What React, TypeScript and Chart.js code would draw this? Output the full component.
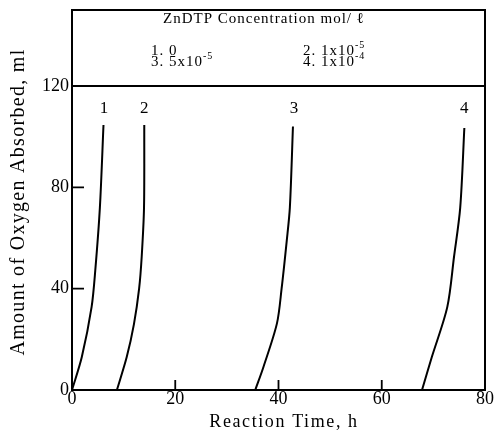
import React, { useEffect, useRef } from 'react';
import { Chart, registerables } from 'chart.js';
Chart.register(...registerables);

const curve1X = [0, 1.9, 3.8, 4.5, 5.4, 6.1];
const curve1Y = [0, 13, 32.8, 47, 72, 104.6];
const curve2X = [8.7, 10.6, 12.0, 13.0, 13.5, 13.95, 14.0];
const curve2Y = [0, 13, 26, 40, 52.6, 72, 104.6];
const curve3X = [35.5, 37.1, 39.7, 40.6, 41.6, 42.2, 42.8];
const curve3Y = [0, 9.2, 26.3, 40, 59, 72, 104];
const curve4X = [67.8, 69.7, 72.7, 74.0, 75.2, 76.0];
const curve4Y = [0, 13, 32.8, 52.6, 72, 103.4];

const curveLabels = ['1', '2', '3', '4'];
const curveLabelX = [6.2, 14.0, 43.0, 76.0];
const curveLabelY = 111;

const xTicks = [0, 20, 40, 60, 80];
const yTicks = [0, 40, 80, 120];
const xInnerTicks = [20, 40, 60];
const yInnerTicks = [40, 80];
const legendTopValue = 120;

const legendTitle = 'ZnDTP Concentration mol/ ℓ';
const legendLabels = ['1. 0', '2. 1x10', '3. 5x10', '4. 1x10'];
const legendExps = ['', '-5', '-5', '-4'];

const xTitle = 'Reaction Time, h';
const yTitle = 'Amount of Oxygen Absorbed, ml';

const FONT = '"Liberation Serif", "DejaVu Serif", serif';

function pts(xs: number[], ys: number[]) {
  return xs.map((x, i) => ({ x, y: ys[i] }));
}

const decorPlugin = {
  id: 'decor',
  afterDraw(chart: any) {
    const { ctx, chartArea, scales } = chart;
    const { left, right, top, bottom } = chartArea;
    const xs = scales.x;
    const ys = scales.y;
    ctx.save();
    ctx.strokeStyle = '#000';
    ctx.fillStyle = '#000';
    ctx.lineWidth = 2;
    ctx.strokeRect(left, top, right - left, bottom - top);
    const ly = ys.getPixelForValue(legendTopValue);
    ctx.beginPath();
    ctx.moveTo(left, ly);
    ctx.lineTo(right, ly);
    ctx.stroke();
    ctx.lineWidth = 1.8;
    ctx.beginPath();
    xInnerTicks.forEach((v) => {
      const px = xs.getPixelForValue(v);
      ctx.moveTo(px, bottom);
      ctx.lineTo(px, bottom - 10);
    });
    yInnerTicks.forEach((v) => {
      const py = ys.getPixelForValue(v);
      ctx.moveTo(left, py);
      ctx.lineTo(left + 12, py);
    });
    ctx.stroke();

    // curve labels
    ctx.font = `17px ${FONT}`;
    ctx.textAlign = 'center';
    ctx.textBaseline = 'middle';
    curveLabels.forEach((t, i) => {
      ctx.fillText(t, xs.getPixelForValue(curveLabelX[i]), ys.getPixelForValue(curveLabelY));
    });

    // legend
    (ctx as any).letterSpacing = '1px';
    ctx.font = `15px ${FONT}`;
    ctx.textBaseline = 'alphabetic';
    ctx.fillText(legendTitle, 264, 23);
    ctx.textAlign = 'left';
    (ctx as any).letterSpacing = '1px';
    const colX = [151, 303];
    const rowY = [55, 66];
    legendLabels.forEach((t, i) => {
      const cx = colX[i % 2];
      const cy = rowY[Math.floor(i / 2)];
      ctx.font = `15px ${FONT}`;
      ctx.fillText(t, cx, cy);
      if (legendExps[i]) {
        const w = ctx.measureText(t).width;
        ctx.font = `10px ${FONT}`;
        ctx.fillText(legendExps[i], cx + w, cy - 7);
      }
    });

    // axis titles
    ctx.textAlign = 'center';
    ctx.textBaseline = 'middle';
    (ctx as any).letterSpacing = '1.6px';
    ctx.font = `18px ${FONT}`;
    ctx.fillText(xTitle, 284, 422);
    (ctx as any).letterSpacing = '1.3px';
    ctx.font = `20px ${FONT}`;
    ctx.translate(19, 202);
    ctx.rotate(-Math.PI / 2);
    ctx.fillText(yTitle, 0, 0);
    ctx.restore();
  },
};

export default function App() {
  const ref = useRef<HTMLCanvasElement | null>(null);
  useEffect(() => {
    if (!ref.current) return;
    const line = (xs: number[], ys: number[]) => ({
      data: pts(xs, ys),
      showLine: true,
      borderColor: '#000',
      borderWidth: 2,
      pointRadius: 0,
      tension: 0.3,
      fill: false,
    });
    const chart = new Chart(ref.current, {
      type: 'scatter',
      data: {
        datasets: [
          line(curve1X, curve1Y),
          line(curve2X, curve2Y),
          line(curve3X, curve3Y),
          line(curve4X, curve4Y),
        ],
      },
      options: {
        animation: false,
        responsive: false,
        layout: { padding: { left: 0, right: 12, top: 10, bottom: 0 } },
        plugins: { legend: { display: false }, tooltip: { enabled: false } },
        scales: {
          x: {
            type: 'linear',
            min: 0,
            max: 80,
            grid: { display: false, drawTicks: false },
            border: { display: false },
            afterBuildTicks: (s: any) => {
              s.ticks = xTicks.map((v) => ({ value: v }));
            },
            afterFit: (s: any) => {
              s.height = 51;
              s.paddingLeft = 0;
              s.paddingRight = 0;
            },
            ticks: { color: '#000', font: { family: FONT, size: 18 }, padding: -2, maxRotation: 0 },
          },
          y: {
            type: 'linear',
            min: 0,
            max: 150,
            grid: { display: false, drawTicks: false },
            border: { display: false },
            afterBuildTicks: (s: any) => {
              s.ticks = yTicks.map((v) => ({ value: v }));
            },
            afterFit: (s: any) => {
              s.width = 72;
              s.paddingTop = 0;
              s.paddingBottom = 0;
            },
            ticks: { color: '#000', font: { family: FONT, size: 18 }, padding: 3 },
          },
        },
      },
      plugins: [decorPlugin],
    });
    return () => chart.destroy();
  }, []);
  return (
    <div style={{ position: 'absolute', left: 0, top: 0, width: 497, height: 441, background: '#fff' }}>
      <canvas ref={ref} width={497} height={441} style={{ width: 497, height: 441 }} />
    </div>
  );
}
